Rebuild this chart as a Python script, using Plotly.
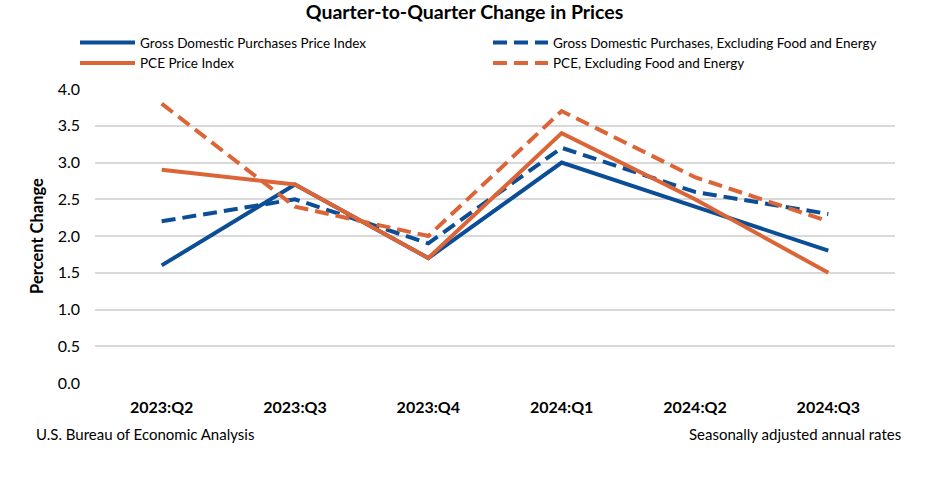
import plotly.graph_objects as go

quarters = ["2023:Q2", "2023:Q3", "2023:Q4", "2024:Q1", "2024:Q2", "2024:Q3"]
gdp_purch = [1.6, 2.7, 1.7, 3.0, 2.4, 1.8]
gdp_purch_core = [2.2, 2.5, 1.9, 3.2, 2.6, 2.3]
pce = [2.9, 2.7, 1.7, 3.4, 2.5, 1.5]
pce_core = [3.8, 2.4, 2.0, 3.7, 2.8, 2.2]
y_ticks = [0.0, 0.5, 1.0, 1.5, 2.0, 2.5, 3.0, 3.5, 4.0]

BLUE = "#0B4E96"
ORANGE = "#DC6537"
FONT = "Lato, Open Sans, sans-serif"

fig = go.Figure()
fig.add_trace(go.Scatter(x=quarters, y=gdp_purch, mode="lines",
                         name="Gross Domestic Purchases Price Index",
                         line=dict(color=BLUE, width=4)))
fig.add_trace(go.Scatter(x=quarters, y=gdp_purch_core, mode="lines",
                         name="Gross Domestic Purchases, Excluding Food and Energy",
                         line=dict(color=BLUE, width=4, dash="14px,7px")))
fig.add_trace(go.Scatter(x=quarters, y=pce, mode="lines",
                         name="PCE Price Index",
                         line=dict(color=ORANGE, width=4)))
fig.add_trace(go.Scatter(x=quarters, y=pce_core, mode="lines",
                         name="PCE, Excluding Food and Energy",
                         line=dict(color=ORANGE, width=4, dash="14px,7px")))

fig.update_layout(
    width=929, height=477,
    margin=dict(l=95, r=34, t=89, b=94),
    paper_bgcolor="white", plot_bgcolor="white",
    font=dict(family=FONT, color="#000000", size=13),
    title=dict(text="<b>Quarter-to-Quarter Change in Prices</b>",
               x=0.5, xanchor="center", y=0.988, yanchor="top",
               font=dict(size=19.5, family=FONT)),
    legend=dict(orientation="h", x=-0.025, xanchor="left", y=1.21, yanchor="top",
                entrywidth=343, entrywidthmode="pixels",
                font=dict(size=13.5, family=FONT), tracegroupgap=0,
                itemwidth=55, bgcolor="rgba(0,0,0,0)"),
    showlegend=True,
)
fig.update_xaxes(type="category", range=[-0.5, 5.5], showgrid=False,
                 showline=False, ticks="", zeroline=False,
                 tickfont=dict(size=16, family=FONT),
                 tickprefix="<b>", ticksuffix="</b>", ticklabelstandoff=13)
fig.update_yaxes(range=[0, 4], tickvals=y_ticks,
                 ticktext=[f"{v:.1f}" for v in y_ticks],
                 showgrid=True, gridcolor="#D9D9D9", gridwidth=1.5,
                 zeroline=False, showline=False, ticks="",
                 tickfont=dict(size=16, family=FONT), ticklabelstandoff=14,
                 title=dict(text="<b>Percent Change</b>", standoff=9,
                            font=dict(size=16.5, family=FONT)))

fig.add_annotation(text="U.S. Bureau of Economic Analysis", xref="paper", yref="paper",
                   x=-0.076, y=-0.175, xanchor="left", yanchor="middle",
                   showarrow=False, font=dict(size=15, family=FONT))
fig.add_annotation(text="Seasonally adjusted annual rates", xref="paper", yref="paper",
                   x=1.01, y=-0.175, xanchor="right", yanchor="middle",
                   showarrow=False, font=dict(size=15, family=FONT))

fig.write_html("out.html")
